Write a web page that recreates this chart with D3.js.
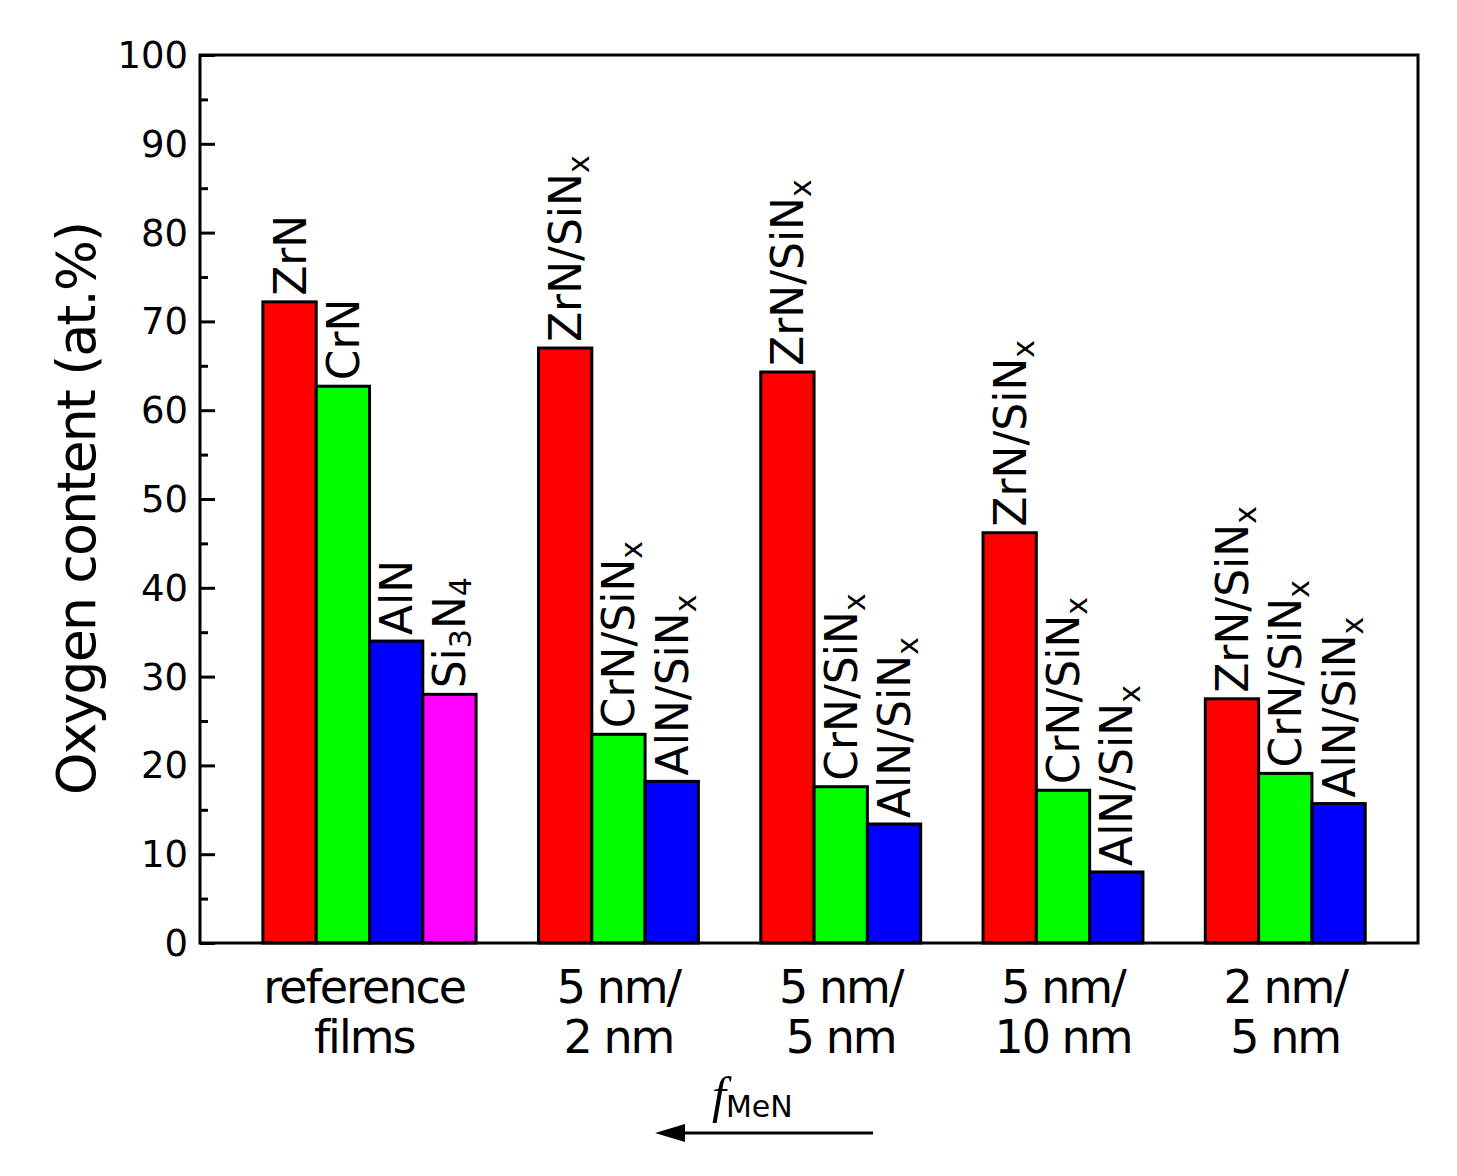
<!DOCTYPE html>
<html><head><meta charset="utf-8">
<script src="https://cdn.jsdelivr.net/npm/d3@7"></script>
<style>body{margin:0;background:#fff}text{font-family:"DejaVu Sans",sans-serif}</style>
</head><body><div id="chart"></div>
<script>
const groups = [['reference', 'films'], ['5 nm/', '2 nm'], ['5 nm/', '5 nm'], ['5 nm/', '10 nm'], ['2 nm/', '5 nm']]
const materials = [['ZrN', 'CrN', 'AlN', 'Si3N4'],
    ['ZrN/SiNx', 'CrN/SiNx', 'AlN/SiNx'],
    ['ZrN/SiNx', 'CrN/SiNx', 'AlN/SiNx'],
    ['ZrN/SiNx', 'CrN/SiNx', 'AlN/SiNx'],
    ['ZrN/SiNx', 'CrN/SiNx', 'AlN/SiNx']]
const values = [[72.2, 62.7, 34.0, 28.0],
    [67.0, 23.5, 18.2],
    [64.3, 17.6, 13.4],
    [46.2, 17.2, 8.0],
    [27.5, 19.1, 15.7]]
const barColors = ['#ff0000', '#00ff00', '#0000ff', '#ff00ff']
const yTicks = d3.range(0, 101, 10)

const W = 1457, H = 1176
const m = {left: 200, right: 1418, top: 55, bottom: 943}
const svg = d3.select('#chart').append('svg').attr('width', W).attr('height', H)

// x in "bar slots": each group occupies its bars, then a gap
const gap = 1.17
let starts = [], u = 0
values.forEach(v => { starts.push(u); u += v.length + gap })
const x = d3.scaleLinear().domain([-1.18, 21.67]).range([m.left, m.right])
const y = d3.scaleLinear().domain([0, 100]).range([m.bottom, m.top])
const bw = x(1) - x(0)

const bars = []
values.forEach((vals, g) => vals.forEach((v, i) => bars.push({g, i, v, name: materials[g][i], u: starts[g] + i})))

svg.selectAll('rect.bar').data(bars).join('rect').attr('class', 'bar')
    .attr('x', d => x(d.u)).attr('width', bw)
    .attr('y', d => y(d.v)).attr('height', d => y(0) - y(d.v))
    .attr('fill', d => barColors[d.i]).attr('stroke', '#000').attr('stroke-width', 3)

// rotated labels with subscripts
bars.forEach(d => {
    const t = svg.append('text')
        .attr('transform', `translate(${x(d.u) + bw / 2 + 16},${y(d.v) - 6}) rotate(-90)`)
        .attr('font-size', 44).attr('fill', '#000')
    const parts = d.name.match(/[A-Za-z\/]+|\d+/g)
    let raw = d.name
    if (raw.endsWith('SiNx')) {
        t.append('tspan').text(raw.slice(0, -1))
        t.append('tspan').text('x').attr('font-size', 30).attr('dy', 8)
    } else if (raw === 'Si3N4') {
        t.append('tspan').text('Si')
        t.append('tspan').text('3').attr('font-size', 30).attr('dy', 6)
        t.append('tspan').text('N').attr('dy', -6)
        t.append('tspan').text('4').attr('font-size', 30).attr('dy', 6)
    } else t.text(raw)
})

// axes
const yAxis = svg.append('g').attr('transform', `translate(${m.left},0)`)
    .call(d3.axisRight(y).tickValues(yTicks).tickSize(15).tickFormat(''))
yAxis.select('.domain').remove()
yAxis.selectAll('line').attr('stroke-width', 3)
svg.append('g').attr('transform', `translate(${m.left},0)`)
    .call(d3.axisRight(y).tickValues(d3.range(5, 100, 10)).tickSize(8).tickFormat(''))
    .call(g => g.select('.domain').remove())
    .selectAll('line').attr('stroke-width', 3)
svg.selectAll('text.ytl').data(yTicks).join('text').attr('class', 'ytl')
    .attr('x', m.left - 12).attr('y', d => y(d) + 13).attr('text-anchor', 'end')
    .attr('font-size', 37).text(d => d)

svg.append('rect').attr('x', m.left).attr('y', m.top)
    .attr('width', m.right - m.left).attr('height', m.bottom - m.top)
    .attr('fill', 'none').attr('stroke', '#000').attr('stroke-width', 3)

svg.append('text').attr('transform', `translate(95,${(m.top + m.bottom) / 2 + 10}) rotate(-90)`)
    .attr('text-anchor', 'middle').attr('font-size', 54).attr('letter-spacing', -2)
    .text('Oxygen content (at.%)')

groups.forEach((lines, g) => {
    const cx = g === 0 ? x(starts[g] + 1.9) : x(starts[g] + values[g].length / 2)
    lines.forEach((s, k) => svg.append('text').attr('x', cx).attr('y', 1003 + k * 50)
        .attr('text-anchor', 'middle').attr('font-size', 46).attr('letter-spacing', -2).text(s))
})

const f = svg.append('text').attr('x', 712).attr('y', 1112).attr('font-size', 50)
f.append('tspan').text('f').attr('font-style', 'italic').attr('font-family', 'Liberation Serif')
f.append('tspan').text('MeN').attr('font-size', 30).attr('dy', 5)

svg.append('line').attr('x1', 873).attr('x2', 680).attr('y1', 1133).attr('y2', 1133)
    .attr('stroke', '#000').attr('stroke-width', 3)
svg.append('path').attr('d', 'M655,1133 L685,1124 L685,1142 Z').attr('fill', '#000')
</script></body></html>
